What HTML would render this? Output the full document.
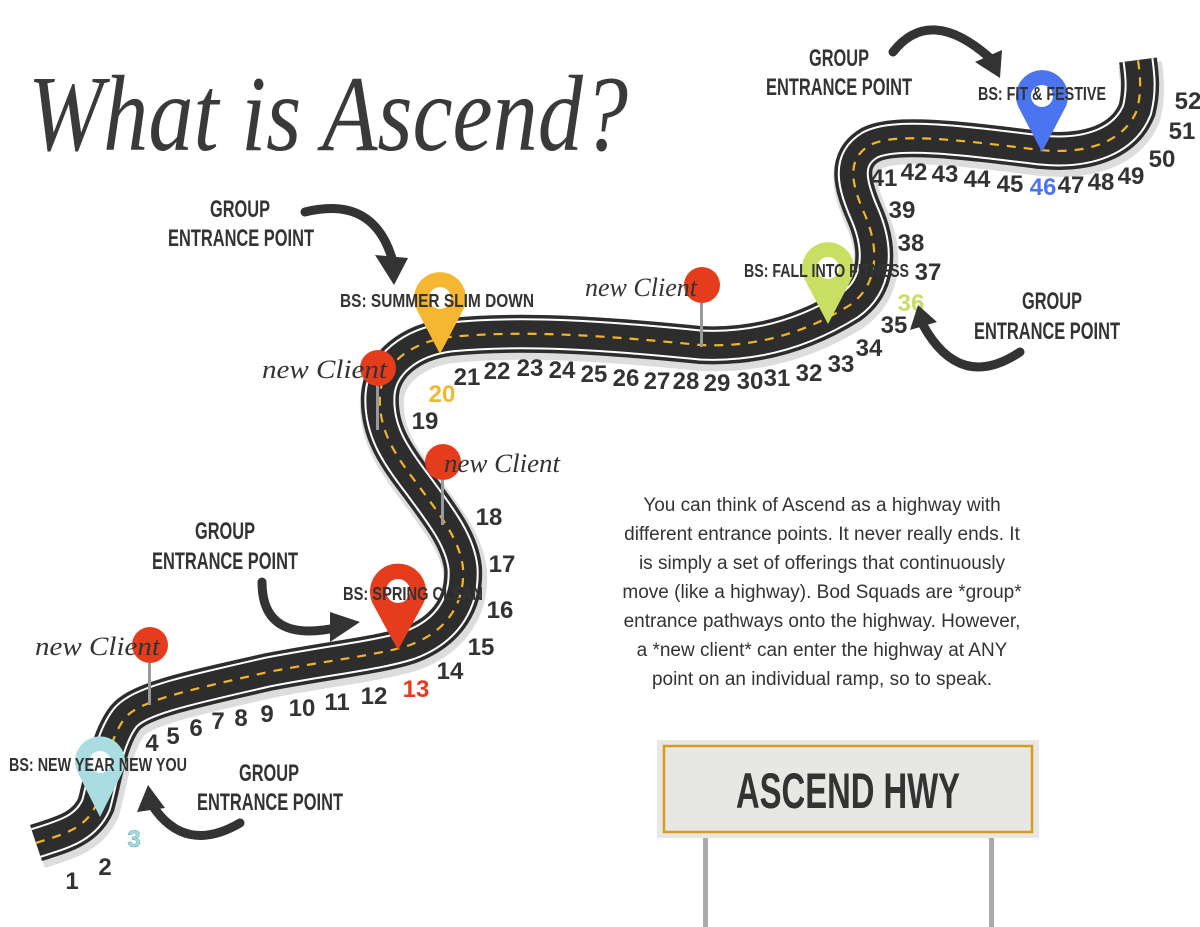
<!DOCTYPE html>
<html><head><meta charset="utf-8"><style>
html,body{margin:0;padding:0;background:#fff;}
svg{display:block;}
.n{font-family:"Liberation Sans",sans-serif;font-weight:bold;font-size:24px;fill:#333;text-anchor:middle;}
.g{font-family:"Liberation Sans",sans-serif;font-weight:bold;font-size:24px;fill:#333;text-anchor:middle;}
.bs{font-family:"Liberation Sans",sans-serif;font-weight:bold;font-size:18px;fill:#333;}
.nc{font-family:"Liberation Serif",serif;font-style:italic;font-size:26px;fill:#333;}
.p{font-family:"Liberation Sans",sans-serif;font-size:19px;fill:#333;text-anchor:middle;}
</style></head><body>
<svg width="1200" height="927" viewBox="0 0 1200 927" xmlns="http://www.w3.org/2000/svg">
<text x="28" y="150" font-family="Liberation Serif,serif" font-style="italic" font-size="108" fill="#3a3a3a" textLength="600" lengthAdjust="spacingAndGlyphs">What is Ascend?</text>

<defs>
<path id="road" d="M36,843 C60,835 85,830 96,805 C103,780 108,740 125,718 C140,700 190,690 268,672 C330,660 380,655 410,645 C450,630 465,600 463,568 C460,540 440,515 418,485 C395,455 378,430 380,395 C382,365 410,342 450,337 C520,330 600,335 700,345 C760,348 810,330 850,305 C878,285 880,250 865,215 C852,185 845,160 870,145 C895,132 960,140 1040,150 C1090,155 1125,140 1137,110 C1142,90 1140,75 1138,60"/>
</defs>
<use href="#road" fill="none" stroke="#ddd" stroke-width="44" transform="translate(2,4)"/>
<use href="#road" fill="none" stroke="#2d2d2d" stroke-width="38"/>
<use href="#road" fill="none" stroke="#fff" stroke-width="31"/>
<use href="#road" fill="none" stroke="#2d2d2d" stroke-width="27"/>
<use href="#road" fill="none" stroke="#f2b52a" stroke-width="2.2" stroke-dasharray="9 8"/>

<g fill="#e63c1e">
<rect x="148" y="645" width="3" height="60" fill="#999"/><circle cx="150" cy="645" r="18"/>
<rect x="376" y="368" width="3" height="62" fill="#999"/><circle cx="378" cy="368" r="18"/>
<rect x="441" y="462" width="3" height="63" fill="#999"/><circle cx="443" cy="462" r="18"/>
<rect x="700" y="285" width="3" height="62" fill="#999"/><circle cx="702" cy="285" r="18"/>
</g>
<text class="nc" x="35" y="655" textLength="125" lengthAdjust="spacingAndGlyphs">new Client</text>
<text class="nc" x="262" y="378" textLength="125" lengthAdjust="spacingAndGlyphs">new Client</text>
<text class="nc" x="444" y="472" textLength="116" lengthAdjust="spacingAndGlyphs">new Client</text>
<text class="nc" x="585" y="296" textLength="112" lengthAdjust="spacingAndGlyphs">new Client</text>

<g>
<path d="M100,817 L79,775 A25,25 0 1 1 121,775 Z" fill="#a9dde1"/><circle cx="100" cy="762" r="11" fill="#fff"/>
<path d="M398,650 L374,606 A28,28 0 1 1 422,606 Z" fill="#e63c1e"/><circle cx="398" cy="591" r="12" fill="#fff"/>
<path d="M440,354 L418,312 A26,26 0 1 1 462,312 Z" fill="#f5b731"/><circle cx="440" cy="298" r="11" fill="#fff"/>
<path d="M828,324 L806,282 A26,26 0 1 1 850,282 Z" fill="#c8df64"/><circle cx="828" cy="268" r="11" fill="#fff"/>
<path d="M1042,152 L1020,110 A26,26 0 1 1 1064,110 Z" fill="#4a74f0"/><circle cx="1042" cy="96" r="11" fill="#fff"/>
</g>
<text class="bs" x="9" y="771" textLength="178" lengthAdjust="spacingAndGlyphs">BS: NEW YEAR NEW YOU</text>
<text class="bs" x="343" y="600" textLength="140" lengthAdjust="spacingAndGlyphs">BS: SPRING CLEAN</text>
<text class="bs" x="340" y="307" textLength="194" lengthAdjust="spacingAndGlyphs">BS: SUMMER SLIM DOWN</text>
<text class="bs" x="744" y="277" textLength="165" lengthAdjust="spacingAndGlyphs">BS: FALL INTO FITNESS</text>
<text class="bs" x="978" y="100" textLength="128" lengthAdjust="spacingAndGlyphs">BS: FIT &amp; FESTIVE</text>

<g class="n">
<text x="72" y="889">1</text><text x="105" y="875">2</text><text x="134" y="847" fill="#a9dde1" stroke="#5aa" stroke-width=".5">3</text>
<text x="152" y="751">4</text><text x="173" y="744">5</text><text x="196" y="736">6</text><text x="218" y="729">7</text>
<text x="241" y="726">8</text><text x="267" y="722">9</text><text x="302" y="716">10</text><text x="337" y="710">11</text>
<text x="374" y="704">12</text><text x="416" y="697" fill="#e63c1e">13</text><text x="450" y="679">14</text><text x="481" y="655">15</text>
<text x="500" y="618">16</text><text x="502" y="572">17</text><text x="489" y="525">18</text><text x="425" y="429">19</text>
<text x="442" y="402" fill="#f5b731">20</text><text x="467" y="385">21</text><text x="497" y="379">22</text><text x="530" y="376">23</text>
<text x="562" y="378">24</text><text x="594" y="382">25</text><text x="626" y="386">26</text><text x="657" y="389">27</text>
<text x="686" y="389">28</text><text x="717" y="391">29</text><text x="750" y="389">30</text><text x="777" y="386">31</text>
<text x="809" y="381">32</text><text x="841" y="372">33</text><text x="869" y="356">34</text><text x="894" y="333">35</text>
<text x="911" y="311" fill="#c8df64">36</text><text x="928" y="280">37</text><text x="911" y="251">38</text><text x="902" y="218">39</text>
<text x="884" y="186">41</text><text x="914" y="180">42</text><text x="945" y="182">43</text><text x="977" y="187">44</text>
<text x="1010" y="192">45</text><text x="1043" y="195" fill="#4a74f0">46</text><text x="1071" y="193">47</text><text x="1101" y="190">48</text>
<text x="1131" y="184">49</text><text x="1162" y="167">50</text><text x="1182" y="139">51</text><text x="1188" y="109">52</text>
</g>

<g class="g">
<text x="240" y="217" textLength="60" lengthAdjust="spacingAndGlyphs">GROUP</text><text x="241" y="246" textLength="146" lengthAdjust="spacingAndGlyphs">ENTRANCE POINT</text>
<text x="225" y="539" textLength="60" lengthAdjust="spacingAndGlyphs">GROUP</text><text x="225" y="569" textLength="146" lengthAdjust="spacingAndGlyphs">ENTRANCE POINT</text>
<text x="269" y="781" textLength="60" lengthAdjust="spacingAndGlyphs">GROUP</text><text x="270" y="810" textLength="146" lengthAdjust="spacingAndGlyphs">ENTRANCE POINT</text>
<text x="839" y="66" textLength="60" lengthAdjust="spacingAndGlyphs">GROUP</text><text x="839" y="95" textLength="146" lengthAdjust="spacingAndGlyphs">ENTRANCE POINT</text>
<text x="1052" y="309" textLength="60" lengthAdjust="spacingAndGlyphs">GROUP</text><text x="1047" y="339" textLength="146" lengthAdjust="spacingAndGlyphs">ENTRANCE POINT</text>
</g>

<g fill="none" stroke="#333" stroke-width="9" stroke-linecap="round">
<path d="M305,212 Q375,195 393,262"/>
<path d="M262,582 Q262,645 340,627"/>
<path d="M240,823 Q185,855 152,805"/>
<path d="M893,52 Q930,5 990,58"/>
<path d="M1020,352 Q960,392 923,325"/>
</g>
<g fill="#333">
<polygon points="375,255 408,258 394,285"/>
<polygon points="330,612 360,622 330,642"/>
<polygon points="137,812 148,785 165,808"/>
<polygon points="975,62 1002,50 1000,78"/>
<polygon points="910,330 918,305 937,322"/>
</g>

<g class="p">
<text x="822" y="511">You can think of Ascend as a highway with</text>
<text x="822" y="540">different entrance points. It never really ends. It</text>
<text x="822" y="569">is simply a set of offerings that continuously</text>
<text x="822" y="598">move (like a highway). Bod Squads are *group*</text>
<text x="822" y="627">entrance pathways onto the highway. However,</text>
<text x="822" y="656">a *new client* can enter the highway at ANY</text>
<text x="822" y="685">point on an individual ramp, so to speak.</text>
</g>

<rect x="703" y="836" width="5" height="91" fill="#a9abad"/>
<rect x="989" y="836" width="5" height="91" fill="#a9abad"/>
<rect x="657" y="740" width="382" height="98" fill="#e7e7e4"/>
<rect x="664" y="746" width="368" height="86" fill="none" stroke="#d89b1f" stroke-width="2.5"/>
<text x="848" y="808" font-family="Liberation Sans,sans-serif" font-weight="bold" font-size="50" fill="#333" text-anchor="middle" textLength="224" lengthAdjust="spacingAndGlyphs">ASCEND HWY</text>
</svg>
</body></html>
